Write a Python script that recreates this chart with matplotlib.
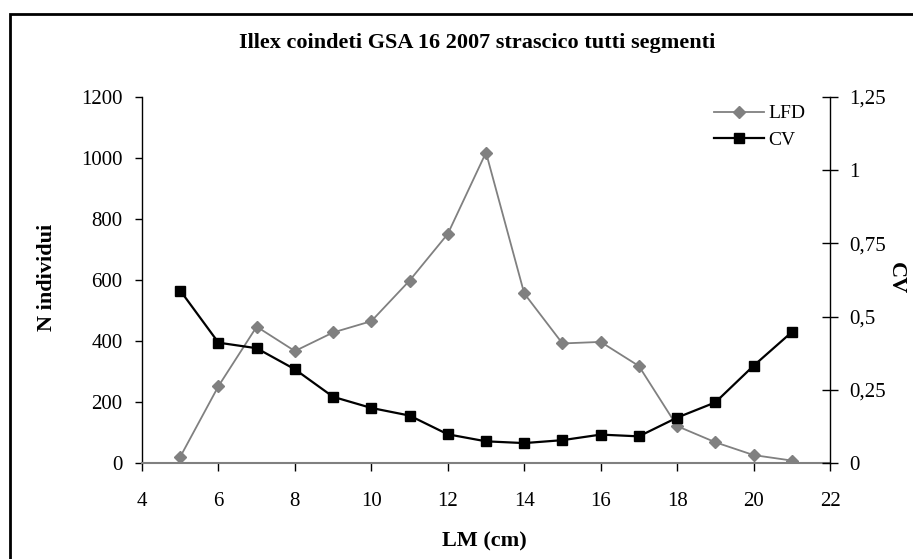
import matplotlib
matplotlib.use("Agg")
import matplotlib.pyplot as plt
from matplotlib.patches import Rectangle
from matplotlib.ticker import FuncFormatter

lm = [5, 6, 7, 8, 9, 10, 11, 12, 13, 14, 15, 16, 17, 18, 19, 20, 21]
lfd = [20, 252, 447, 367, 428, 465, 598, 751, 1018, 556, 392, 397, 318, 121, 68, 26, 8]
cv = [0.589, 0.411, 0.392, 0.320, 0.226, 0.188, 0.162, 0.098, 0.074, 0.068,
      0.078, 0.097, 0.091, 0.155, 0.207, 0.332, 0.447]
title = "Illex coindeti GSA 16 2007 strascico tutti segmenti"

plt.rcParams['font.family'] = ['Liberation Serif', 'DejaVu Serif']

W, H = 913, 559
fig = plt.figure(figsize=(W / 100, H / 100), dpi=100)
fig.patches.append(Rectangle((10 / W, -0.05), 1.1, (H - 14) / H + 0.05,
                             transform=fig.transFigure, fill=False,
                             edgecolor='black', linewidth=2))

ax = fig.add_axes([142 / W, 1 - 463 / H, (830 - 142) / W, (463 - 97) / H])
ax2 = ax.twinx()

l1, = ax.plot(lm, lfd, color='#808080', marker='D', markersize=6.5, linewidth=1.3,
              label='LFD', zorder=3)
l2, = ax2.plot(lm, cv, color='black', marker='s', markersize=7.5, linewidth=1.6,
               label='CV', zorder=3)

ax.set_xlim(4, 22)
ax.set_ylim(0, 1200)
ax2.set_ylim(0, 1.25)
ax.set_xticks(range(4, 23, 2))
ax.set_yticks(range(0, 1201, 200))
ax2.set_yticks([0, 0.25, 0.5, 0.75, 1, 1.25])
ax2.yaxis.set_major_formatter(FuncFormatter(
    lambda v, p: ('%g' % v).replace('.', ',')))

for a in (ax, ax2):
    a.spines['top'].set_visible(False)
ax.spines['right'].set_visible(False)
ax.spines['bottom'].set_color('#808080')
ax.spines['bottom'].set_linewidth(1.5)
ax.spines['left'].set_linewidth(1.0)
ax2.spines['left'].set_visible(False)
ax2.spines['bottom'].set_visible(False)
ax2.spines['right'].set_linewidth(1.0)

ax.tick_params(axis='x', direction='out', length=6, width=1, labelsize=15, pad=15)
ax.tick_params(axis='y', direction='out', length=5, width=1, labelsize=15, pad=9)
ax2.tick_params(axis='y', direction='inout', length=11, width=1, labelsize=15, pad=8)

fig.text(477 / W, 1 - 43 / H, title, ha='center', va='center',
         fontsize=16, fontweight='bold')
fig.text(47 / W, 1 - 277 / H, "N individui", rotation=90, ha='center',
         va='center', fontsize=16, fontweight='bold')
fig.text(896 / W, 1 - 278 / H, "CV", rotation=270, ha='center',
         va='center', fontsize=16, fontweight='bold')
fig.text(484 / W, 1 - 541 / H, "LM (cm)", ha='center', va='center',
         fontsize=16, fontweight='bold')

ax2.legend(handles=[l1, l2], loc='upper right', bbox_to_anchor=(0.975, 1.0),
           frameon=False, fontsize=14, handlelength=2.6, handletextpad=0.2,
           labelspacing=0.45, borderaxespad=0)

fig.savefig("out.png", dpi=100)
